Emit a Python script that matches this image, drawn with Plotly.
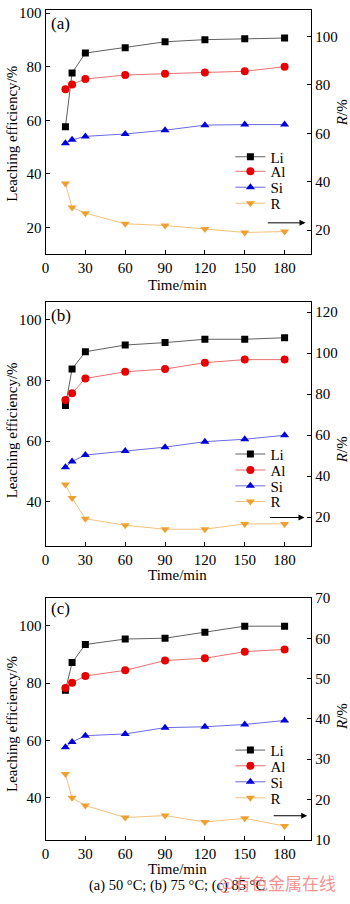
import plotly.graph_objects as go

W, H = 350, 904

# ---- data ----
time_min = [15, 20, 30, 60, 90, 120, 150, 180]

li_a = [57.6, 77.7, 85.1, 87.1, 89.3, 90.1, 90.4, 90.7]
al_a = [71.6, 73.4, 75.4, 76.9, 77.4, 77.8, 78.3, 80.0]
si_a = [51.4, 52.7, 54.0, 54.9, 56.3, 58.2, 58.4, 58.4]
r_a = [39.2, 29.3, 27.0, 22.6, 21.9, 20.4, 19.0, 19.4]

li_b = [71.7, 83.7, 89.4, 91.6, 92.4, 93.5, 93.5, 94.0]
al_b = [73.5, 75.7, 80.6, 82.8, 83.7, 85.8, 86.8, 86.8]
si_b = [51.4, 53.3, 55.4, 56.7, 58.0, 59.8, 60.6, 61.9]
r_b = [35.9, 29.3, 19.2, 16.0, 14.1, 14.1, 16.7, 16.7]

li_c = [77.5, 87.2, 93.5, 95.4, 95.7, 97.8, 99.9, 99.9]
al_c = [78.3, 80.2, 82.5, 84.5, 87.9, 88.7, 91.0, 91.8]
si_c = [57.7, 59.5, 61.7, 62.3, 64.5, 64.8, 65.6, 67.0]
r_c = [26.3, 20.4, 18.5, 15.5, 16.0, 14.4, 15.3, 13.4]

series_names = ["Li", "Al", "Si", "R"]
panel_labels = ["(a)", "(b)", "(c)"]
x_ticks = [0, 30, 60, 90, 120, 150, 180]
caption = "(a) 50 °C; (b) 75 °C; (c) 85 °C"
watermark = "@有色金属在线"

panels = [
    dict(data=[li_a, al_a, si_a, r_a], top=2.5, bot=250.7, left_rng=[10, 101], right_rng=[10, 110.75],
         left_dt=20, right_dt=20, leg=[151.7, 166.5, 182.7, 199.0], arrow_y=218.7, arrow_x=[265.7, 305],
         lab_y=16, ltitle_y=128, rtitle_y=107, xtitle_y=281.7),
    dict(data=[li_b, al_b, si_b, r_b], top=299.8, bot=547.3, left_rng=[25.6, 105.6], right_rng=[6.1, 124.7],
         left_dt=20, right_dt=20, leg=[454.3, 470.6, 486.7, 502.7], arrow_y=518.7, arrow_x=[268, 304],
         lab_y=313.3, ltitle_y=430, rtitle_y=450, xtitle_y=577.3),
    dict(data=[li_c, al_c, si_c, r_c], top=600.7, bot=846.7, left_rng=[25.4, 109.7], right_rng=[10, 70],
         left_dt=20, right_dt=10, leg=[755.7, 771.7, 788.0, 804.3], arrow_y=822.3, arrow_x=[271.7, 306.7],
         lab_y=611.7, ltitle_y=729, rtitle_y=721.7, xtitle_y=876.7),
]

FONT = "Times New Roman, Liberation Serif, serif"
marker_syms = ["square", "circle", "triangle-up", "triangle-down"]
marker_cols = ["#000000", "#e80000", "#0000d8", "#f0a030"]
line_cols = ["#606060", "#e87070", "#6a6ae0", "#f2c080"]
marker_sizes = [7, 8, 8, 8]

XL, XR = 42, 310.7


def px(x):
    return x / W


def py(y):
    return 1 - y / H


fig = go.Figure()
layout = dict(
    width=W, height=H, margin=dict(l=0, r=0, t=0, b=0),
    paper_bgcolor="white", plot_bgcolor="white",
    font=dict(family=FONT, size=15, color="black"),
    showlegend=True,
)
annotations = []
leg_idx = 0
for i, p in enumerate(panels):
    xa = "x" if i == 0 else f"x{i+1}"
    ya = "y" if i == 0 else f"y{i+1}"
    yr = f"y{i+4}"
    dom_y = [py(p["bot"]), py(p["top"])]
    layout["xaxis" if i == 0 else f"xaxis{i+1}"] = dict(
        domain=[px(XL), px(XR)], anchor=ya, range=[0, 200], tickvals=x_ticks,
        ticks="inside", ticklen=4, tickcolor="black", showline=True, linecolor="black",
        linewidth=1, mirror=True, showgrid=False, zeroline=False,
        tickfont=dict(size=15, family=FONT),
    )
    layout["yaxis" if i == 0 else f"yaxis{i+1}"] = dict(
        domain=dom_y, anchor=xa, range=p["left_rng"], dtick=p["left_dt"], tick0=0,
        ticks="inside", ticklen=4, tickcolor="black", showline=True, linecolor="black",
        linewidth=1, showgrid=False, zeroline=False, tickfont=dict(size=15, family=FONT),
    )
    layout[f"yaxis{i+4}"] = dict(
        overlaying=ya, anchor=xa, side="right", range=p["right_rng"], dtick=p["right_dt"], tick0=0,
        ticks="inside", ticklen=4, tickcolor="black", showline=True, linecolor="black",
        linewidth=1, showgrid=False, zeroline=False, tickfont=dict(size=15, family=FONT),
    )
    for s in range(4):
        leg_idx += 1
        lname = "legend" if leg_idx == 1 else f"legend{leg_idx}"
        fig.add_trace(go.Scatter(
            x=time_min, y=p["data"][s], name=series_names[s], mode="lines+markers",
            xaxis=xa, yaxis=(yr if s == 3 else ya),
            line=dict(color=line_cols[s], width=1),
            marker=dict(symbol=marker_syms[s], color=marker_cols[s], size=marker_sizes[s]),
            legend=lname, showlegend=True,
        ))
        layout[lname] = dict(
            x=px(229), y=py(p["leg"][s]), xanchor="left", yanchor="middle",
            bgcolor="rgba(0,0,0,0)", borderwidth=0, itemwidth=30,
            font=dict(size=15, family=FONT, color="black"),
        )
    # arrow
    annotations.append(dict(
        xref="paper", yref="paper", x=px(p["arrow_x"][1]), y=py(p["arrow_y"]),
        ax=-(p["arrow_x"][1] - p["arrow_x"][0]), ay=0, axref="pixel", ayref="pixel",
        showarrow=True, arrowhead=2, arrowsize=1.2, arrowwidth=1, arrowcolor="black", text="",
    ))
    # panel label
    annotations.append(dict(xref="paper", yref="paper", x=px(46), y=py(p["lab_y"]),
                            xanchor="left", yanchor="middle", text=panel_labels[i],
                            showarrow=False, font=dict(size=17, family=FONT)))
    # axis titles
    annotations.append(dict(xref="paper", yref="paper", x=px(8), y=py(p["ltitle_y"]),
                            xanchor="center", yanchor="middle", text="Leaching efficiency/%",
                            textangle=-90, showarrow=False, font=dict(size=15, family=FONT)))
    annotations.append(dict(xref="paper", yref="paper", x=px(342), y=py(p["rtitle_y"]),
                            xanchor="center", yanchor="middle", text="<i>R</i>/%",
                            textangle=-90, showarrow=False, font=dict(size=15, family=FONT)))
    annotations.append(dict(xref="paper", yref="paper", x=px(176), y=py(p["xtitle_y"]),
                            xanchor="center", yanchor="middle", text="Time/min",
                            showarrow=False, font=dict(size=15, family=FONT)))

annotations.append(dict(xref="paper", yref="paper", x=px(175), y=py(893), xanchor="center",
                        yanchor="middle", text=caption, showarrow=False,
                        font=dict(size=14.5, family=FONT)))
annotations.append(dict(xref="paper", yref="paper", x=px(276), y=py(890), xanchor="center",
                        yanchor="middle", text=watermark, showarrow=False,
                        font=dict(size=17, family="Noto Sans CJK SC", color="rgba(240,110,110,0.75)")))

layout["annotations"] = annotations
fig.update_layout(**layout)
fig.write_html("out.html")
